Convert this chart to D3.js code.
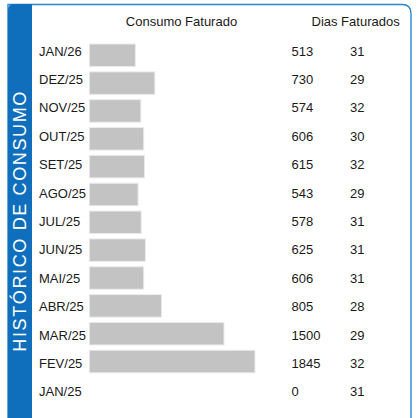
<!DOCTYPE html>
<html>
<head>
<meta charset="utf-8">
<script src="https://cdn.jsdelivr.net/npm/d3@7"></script>
<style>
    body { margin: 0; background: #fff; }
    #chart-area { width: 417px; height: 418px; }
    text { font-family: "Liberation Sans", Arial, sans-serif; fill: #1a1a1a; }
</style>
</head>
<body>
<div id="chart-area"></div>
<script>

let months = ["JAN/26", "DEZ/25", "NOV/25", "OUT/25", "SET/25", "AGO/25", "JUL/25",
              "JUN/25", "MAI/25", "ABR/25", "MAR/25", "FEV/25", "JAN/25"];
let consumo = [513, 730, 574, 606, 615, 543, 578, 625, 606, 805, 1500, 1845, 0];
let dias = [31, 29, 32, 30, 32, 29, 31, 31, 31, 28, 29, 32, 31];
let headers = ["Consumo Faturado", "Dias Faturados"];
let title = "HISTÓRICO DE CONSUMO";

class ConsumoHistory {
    constructor(_parentElement) {
        this.parentElement = _parentElement;
        this.initVis();
    }

    initVis() {
        let vis = this;

        vis.width = 417;
        vis.height = 418;
        vis.blue = "#0f6fbd";

        vis.svg = d3.select("#" + vis.parentElement).append("svg")
            .attr("width", vis.width)
            .attr("height", vis.height);

        // frame: thin blue outline with rounded top corners
        let x0 = 8, x1 = 411, y0 = 4.5, r = 9;
        vis.svg.append("path")
            .attr("d", `M${x0},${vis.height + 10} V${y0} H${x1 - r} Q${x1},${y0} ${x1},${y0 + r} V${vis.height + 10}`)
            .attr("fill", "none")
            .attr("stroke", "#2a85cf")
            .attr("stroke-width", 1.4);

        // left blue panel
        let pr = 6;
        vis.svg.append("path")
            .attr("d", `M8,${vis.height + 10} V${4 + pr} Q8,4 ${8 + pr},4 H32 V${vis.height + 10} Z`)
            .attr("fill", vis.blue);

        vis.svg.append("text")
            .attr("transform", "translate(26.3,221.7) rotate(-90)")
            .attr("text-anchor", "middle")
            .attr("textLength", 260)
            .attr("lengthAdjust", "spacing")
            .style("font-size", "18px")
            .style("fill", "#fff")
            .text(title);

        vis.wrangleData();
    }

    wrangleData() {
        let vis = this;

        vis.displayData = months.map((m, i) => ({month: m, consumo: consumo[i], dias: dias[i]}));

        vis.updateVis();
    }

    updateVis() {
        let vis = this;

        let n = vis.displayData.length;

        vis.x = d3.scaleLinear()
            .domain([0, d3.max(consumo)])
            .range([89.3, 255]);

        // text rows and bar rows are spaced a bit differently in the original
        vis.yText = d3.scalePoint()
            .domain(months)
            .range([55.5, 55.5 + (n - 1) * 28.4]);

        vis.yBar = d3.scaleBand()
            .domain(months)
            .range([44 - 2.7, 44 - 2.7 + n * 27.85])
            .paddingInner(0.19)
            .paddingOuter(0.097);

        vis.svg.append("text")
            .attr("x", 181.5)
            .attr("y", 26)
            .attr("text-anchor", "middle")
            .style("font-size", "13px")
            .text(headers[0]);

        vis.svg.append("text")
            .attr("x", 311.5)
            .attr("y", 26)
            .style("font-size", "13px")
            .text(headers[1]);

        vis.svg.selectAll(".bar")
            .data(vis.displayData.filter(d => d.consumo > 0))
            .enter()
            .append("rect")
            .attr("class", "bar")
            .attr("x", vis.x(0))
            .attr("y", d => vis.yBar(d.month))
            .attr("width", d => vis.x(d.consumo) - vis.x(0))
            .attr("height", vis.yBar.bandwidth())
            .attr("fill", "#c3c3c3")
            .attr("stroke", "#ebebeb")
            .attr("stroke-width", 1);

        let rows = vis.svg.selectAll(".row")
            .data(vis.displayData)
            .enter()
            .append("g")
            .attr("class", "row")
            .attr("transform", d => `translate(0, ${vis.yText(d.month)})`);

        rows.append("text")
            .attr("x", 39)
            .style("font-size", "13px")
            .text(d => d.month);

        rows.append("text")
            .attr("x", 291.5)
            .style("font-size", "13px")
            .text(d => d.consumo);

        rows.append("text")
            .attr("x", 350)
            .style("font-size", "13px")
            .text(d => d.dias);
    }
}

new ConsumoHistory("chart-area");
</script>
</body>
</html>
